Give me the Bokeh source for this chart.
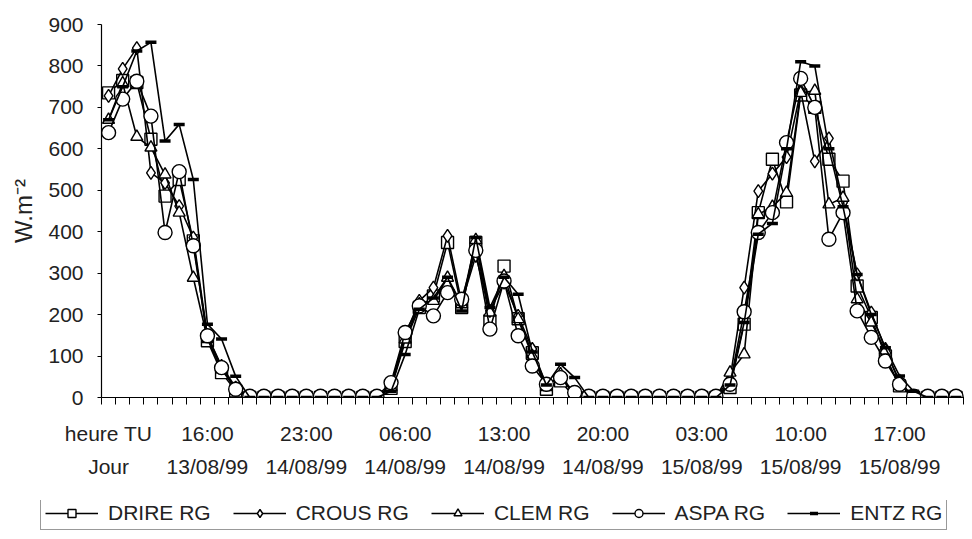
from bokeh.plotting import figure
from bokeh.models import Range1d, FixedTicker, LinearAxis, Legend, LegendItem
from bokeh.layouts import column, row
from bokeh.embed import file_html
from bokeh.resources import INLINE

# ---------------- data (hourly, category 0 = 09:00 on 13/08/99) ----------------
hour_positions = [0, 7, 14, 21, 28, 35, 42, 49, 56]
hour_labels = ["heure TU", "16:00", "23:00", "06:00", "13:00", "20:00", "03:00", "10:00", "17:00"]
day_labels = ["Jour", "13/08/99", "14/08/99", "14/08/99", "14/08/99", "14/08/99", "15/08/99", "15/08/99", "15/08/99"]
y_ticks = [0, 100, 200, 300, 400, 500, 600, 700, 800, 900]

series_names = ["DRIRE RG", "CROUS RG", "CLEM RG", "ASPA RG", "ENTZ RG"]

drire = [735, 765, 760, 623, 486, 526, 378, 137, 60, 16,
         0, 0, 0, 0, 0, 0, 0, 0, 0, 0,
         22, 135, 217, 245, 374, 217, 374, 185, 317, 190,
         108, 20, 40, 0, 0, 0, 0, 0, 0, 0,
         0, 0, 0, 0, 24, 177, 446, 575, 472, 730,
         700, 575, 522, 269, 193, 100, 28, 0, 0, 0, 0]
crous = [728, 793, 843, 542, 518, 462, 386, 149, 76, 24,
         0, 0, 0, 0, 0, 0, 0, 0, 0, 0,
         30, 150, 233, 265, 390, 229, 342, 209, 277, 197,
         117, 30, 50, 5, 0, 0, 0, 0, 0, 0,
         0, 0, 0, 0, 45, 265, 498, 540, 580, 740,
         570, 625, 470, 297, 205, 117, 36, 0, 0, 0, 0]
clem = [670, 758, 629, 603, 538, 446, 289, 141, 68, 20,
        0, 0, 0, 0, 0, 0, 0, 0, 0, 0,
        25, 140, 225, 233, 289, 225, 380, 205, 293, 189,
        100, 25, 56, 5, 0, 0, 0, 0, 0, 0,
        0, 0, 0, 0, 60, 104, 442, 460, 494, 735,
        740, 466, 482, 237, 181, 113, 40, 0, 0, 0, 0]
aspa = [639, 720, 763, 679, 398, 545, 366, 149, 72, 20,
        3, 3, 3, 3, 3, 3, 3, 3, 3, 3,
        36, 157, 221, 197, 253, 237, 355, 165, 281, 149,
        76, 32, 48, 12, 3, 3, 3, 3, 3, 3,
        3, 3, 3, 3, 32, 207, 398, 446, 615, 770,
        700, 382, 446, 209, 145, 88, 32, 3, 3, 3, 3]
entz = [670, 750, 836, 857, 619, 659, 526, 177, 141, 51,
        0, 0, 0, 0, 0, 0, 0, 0, 0, 0,
        15, 104, 213, 240, 290, 209, 386, 217, 290, 249,
        110, 30, 80, 48, 0, 0, 0, 0, 0, 0,
        0, 0, 0, 0, 30, 181, 394, 420, 600, 810,
        800, 600, 460, 297, 200, 120, 52, 15, 0, 0, 0]

FONT = "Liberation Sans"
FS = "21px"
TXT = "#222222"

n = len(drire)
xs = list(range(n))

p = figure(width=964, height=500, output_backend="svg", toolbar_location=None,
           x_range=Range1d(-0.5, 60.6), y_range=Range1d(0, 900),
           min_border_left=101, min_border_right=0, min_border_top=24,
           min_border_bottom=103,
           x_axis_type=None, y_axis_type=None)
p.outline_line_color = None
p.background_fill_color = "white"
p.border_fill_color = "white"

# y axis
yax = LinearAxis(ticker=FixedTicker(ticks=y_ticks))
yax.axis_line_color = "black"
yax.axis_line_width = 1.2
yax.major_tick_out = 4
yax.major_tick_in = 0
yax.minor_tick_line_color = None
yax.major_label_text_font = FONT
yax.major_label_text_font_size = FS
yax.major_label_text_color = TXT
yax.major_label_standoff = 14
yax.axis_label = "W.m\u207b\u00b2"
yax.axis_label_text_font = FONT
yax.axis_label_text_font_size = "24px"
yax.axis_label_text_font_style = "normal"
yax.axis_label_text_color = TXT
yax.axis_label_standoff = 8
p.add_layout(yax, "left")

# horizontal grid
p.ygrid.ticker = FixedTicker(ticks=y_ticks)
p.ygrid.grid_line_color = "#555555"
p.ygrid.grid_line_width = 1.5
p.xgrid.grid_line_color = None

# x axis: tick marks at category boundaries, hour labels at category centers
boundaries = [i - 0.5 for i in range(n + 1)]
xax = LinearAxis(ticker=FixedTicker(ticks=hour_positions, minor_ticks=boundaries))
xax.axis_line_color = "black"
xax.axis_line_width = 1.2
xax.major_tick_out = 0
xax.major_tick_in = 0
xax.minor_tick_out = 7
xax.minor_tick_in = 0
xax.minor_tick_line_color = "black"
xax.major_label_overrides = {pos: lab for pos, lab in zip(hour_positions, hour_labels)}
xax.major_label_text_font = FONT
xax.major_label_text_font_size = FS
xax.major_label_text_color = TXT
xax.major_label_standoff = 17
p.add_layout(xax, "below")

dax = LinearAxis(ticker=FixedTicker(ticks=hour_positions))
dax.axis_line_color = None
dax.major_tick_line_color = None
dax.minor_tick_line_color = None
dax.major_label_overrides = {pos: lab for pos, lab in zip(hour_positions, day_labels)}
dax.major_label_text_font = FONT
dax.major_label_text_font_size = FS
dax.major_label_text_color = TXT
dax.major_label_standoff = 1
p.add_layout(dax, "below")

# series
values = [drire, crous, clem, aspa, entz]
markers = ["square", "diamond", "triangle", "circle", "dash"]
sizes = [12, 13, 12, 14, 11]

# legend strip: its own small figure; the series are copied there out of its
# visible range so that they only feed the legend's sample glyphs
lf = figure(width=964, height=31, output_backend="svg", toolbar_location=None,
            x_range=Range1d(0, 1), y_range=Range1d(0, 1),
            min_border_left=0, min_border_right=0, min_border_top=0, min_border_bottom=0,
            x_axis_type=None, y_axis_type=None)
lf.outline_line_color = None
lf.xgrid.grid_line_color = None
lf.ygrid.grid_line_color = None

items = []
for name, vals, mk, sz in zip(series_names, values, markers, sizes):
    p.line(xs, vals, line_color="black", line_width=1.6)
    if mk == "dash":
        p.scatter(xs, vals, marker=mk, size=sz, line_color="black", line_width=3.5)
        lsc = lf.scatter(xs, vals, marker=mk, size=sz, line_color="black", line_width=3.5)
    else:
        p.scatter(xs, vals, marker=mk, size=sz, fill_color="white",
                  line_color="black", line_width=1.4)
        lsc = lf.scatter(xs, vals, marker=mk, size=sz, fill_color="white",
                         line_color="black", line_width=1.4)
    lln = lf.line(xs, vals, line_color="black", line_width=1.6)
    items.append(LegendItem(label=name, renderers=[lln, lsc]))

legend = Legend(items=items, orientation="horizontal", location=(40, 1))
legend.label_text_font = FONT
legend.label_text_font_size = FS
legend.label_text_color = TXT
legend.glyph_width = 53
legend.glyph_height = 20
legend.label_standoff = 10
legend.spacing = 22
legend.padding = 4
legend.margin = 0
legend.border_line_color = "#333333"
legend.border_line_width = 1.5
legend.background_fill_color = "white"
legend.background_fill_alpha = 1
lf.add_layout(legend, "center")

layout = column(p, row(lf), spacing=0)
open("out.html", "w").write(file_html(layout, INLINE))
